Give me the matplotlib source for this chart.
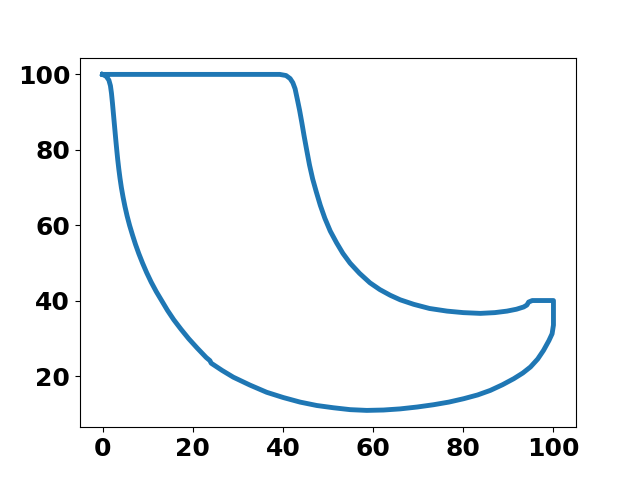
import matplotlib
matplotlib.use("Agg")
import matplotlib.pyplot as plt

# outline of the closed curve, segment by segment
top_x = [0, 10, 20, 30, 39.3]
top_y = [100, 100, 100, 100, 100]

drop_x = [40.7, 41.6, 42.2, 42.7, 43.2, 43.7, 44.2, 44.7, 45.3, 45.9, 46.6, 47.4,
          48.3, 49.3, 50.5, 51.9, 53.3, 54.9, 57, 59.3, 61.5, 63.8, 66, 69,
          72.5, 76.4, 80, 83.8, 87, 89.7, 91.8, 93.4, 94.1, 94.5]
drop_y = [99.7, 98.9, 97.8, 96.2, 93.4, 90.5, 87.2, 83.7, 79.8, 76, 72.3, 68.9,
          65.3, 61.9, 58.5, 55.4, 52.6, 50, 47.3, 44.8, 43, 41.5, 40.3, 39.1,
          38, 37.3, 36.9, 36.7, 36.9, 37.3, 37.8, 38.4, 38.9, 39.7]

notch_x = [95.3, 97, 99, 100, 100, 100, 100]
notch_y = [40.1, 40.1, 40.1, 40.1, 37, 34.4, 33.6]

bottom_x = [99.7, 99, 97.8, 96.5, 94.9, 93.2, 91.2, 88.7, 86, 83.2, 80.1,
            76.8, 73.4, 69.8, 66, 62.3, 58.6, 54.9, 51.2, 47.5, 43.8, 40.1,
            36.4, 32.7, 29, 26.5, 24.1]
bottom_y = [31.3, 29.5, 26.9, 24.6, 22.5, 20.9, 19.4, 17.8, 16.3, 15.1, 14.1,
            13.2, 12.5, 11.9, 11.4, 11.1, 11, 11.2, 11.7, 12.3, 13.2, 14.4,
            15.8, 17.7, 19.8, 21.6, 23.5]

rise_x = [23.8, 23.0, 21.0, 19.1, 17.4, 15.8, 14.4, 13.15, 11.9, 10.78, 9.78,
          8.88, 8.05, 7.3, 6.63, 6.0, 5.45, 4.97, 4.55, 4.18, 3.87, 3.6, 3.36,
          3.15, 2.95, 2.76, 2.57, 2.38, 2.19, 1.98, 1.75, 1.4, 0.8, 0]
rise_y = [24.2, 25, 27.5, 30, 32.5, 35, 37.5, 40, 42.5, 45, 47.5,
          50, 52.5, 55, 57.5, 60, 62.5, 65, 67.5, 70, 72.5, 75, 77.5,
          80, 82.5, 85, 87.5, 90, 92.5, 95, 97, 98.5, 99.5, 100]

x = top_x + drop_x + notch_x + bottom_x + rise_x
y = top_y + drop_y + notch_y + bottom_y + rise_y

fig, ax = plt.subplots(figsize=(6.4, 4.8), dpi=100)
ax.plot(x, y, color="#1f77b4", linewidth=3.5, solid_joinstyle="round")
ax.set_xticks([0, 20, 40, 60, 80, 100])
ax.set_yticks([20, 40, 60, 80, 100])
for lab in ax.get_xticklabels() + ax.get_yticklabels():
    lab.set_fontsize(18)
    lab.set_fontweight("bold")
fig.savefig("out.png")
